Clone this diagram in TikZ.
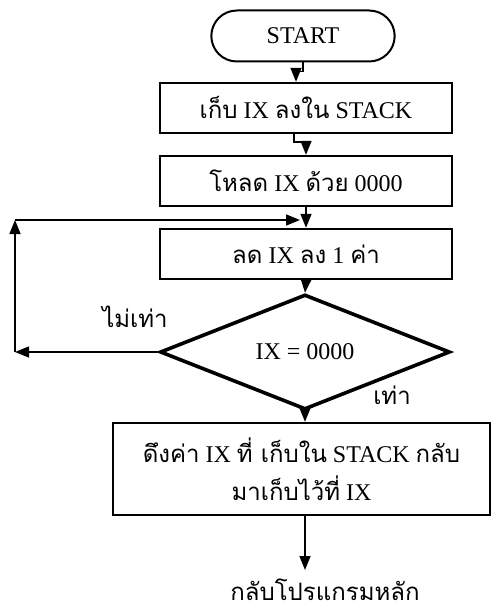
\documentclass[tikz,border=0pt]{standalone}
\usepackage{fontspec}
\setmainfont{Liberation Serif}
\newfontfamily\thaifont[Script=Thai,Scale=1.0]{Loma}
\newcommand{\tht}[1]{{\thaifont #1}}
\usetikzlibrary{shapes,arrows.meta}

\tikzset{
  box/.style={shape=rectangle,draw=black,align=center,line width=2.4pt,minimum width=292pt,minimum height=50pt,inner sep=0pt},
  term/.style={shape=rounded rectangle,draw=black,align=center,line width=2pt,minimum width=190pt,minimum height=51pt},
  test/.style={shape=diamond,draw=black,align=center,line width=3.6pt,minimum width=290pt,minimum height=97pt,inner sep=0pt},
  arr/.style={-{Triangle[length=14pt,width=11pt]},draw=black,line width=1.5pt},
}

\begin{document}
\begin{tikzpicture}[x=1pt,y=-1pt,font=\fontsize{24}{38}\selectfont]
\useasboundingbox (0,0) rectangle (493,610);

\node[term] (start) at (303,36) {START};
\node[box] (push) at (306,108) {\tht{เก็บ} IX \tht{ลงใน} STACK};
\node[box] (load) at (306,181) {\tht{โหลด} IX \tht{ด้วย} 0000};
\node[box] (dec) at (306,254) {\tht{ลด} IX \tht{ลง} 1 \tht{ค่า}};
\node[test] (zero) at (305,352) {IX = 0000};
\node[box,minimum width=377pt,minimum height=92pt] (pop) at (301.5,469) {\tht{ดึงค่า} IX \tht{ที่ เก็บใน} STACK \tht{กลับ}\\ \tht{มาเก็บไว้ที่} IX};
\node (back) at (325,590) {\tht{กลับโปรแกรมหลัก}};

\node (no) at (135,317) {\tht{ไม่เท่า}};
\node (yes) at (392,395) {\tht{เท่า}};

% loop back corners
\coordinate (lb) at (15,352);
\coordinate (lt) at (15,220);
\coordinate (lj) at (dec.north |- lt);

\path [arr] (start.south) -- ++(0,9) -| ([xshift=-10pt]push.north);
\path [arr] ([xshift=-12pt]push.south) -- ++(0,8) -| (load.north);
\path [arr] (load.south) -- (dec.north);
\path [arr] (dec.south) -- (zero.north);
\path [arr] (zero.west) -- (lb);
\path [arr] (lb) -- (lt);
\path [arr] (lt) -- ([xshift=-6pt]lj);
\path [arr] (zero.south) -- (zero.south |- pop.north);
\path [arr] (zero.south |- pop.south) -- (zero.south |- 0,570);
\end{tikzpicture}
\end{document}
